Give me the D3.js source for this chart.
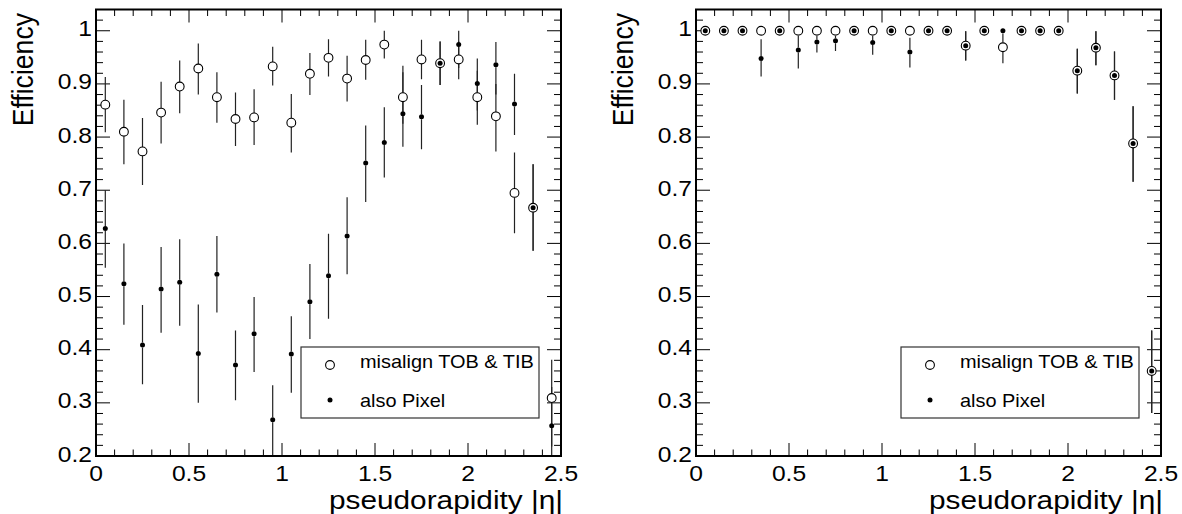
<!DOCTYPE html>
<html>
<head>
  <meta charset="UTF-8">
  <style>
    body { margin: 0; padding: 0; background: #fff; }
    svg { display: block; }
    text { font-family: "Liberation Sans", Arial, sans-serif; fill: #000; }
  </style>
</head>
<body>
<svg></svg>
<script src="https://d3js.org/d3.v7.min.js"></script>
<script>
  // bin centres in |eta|
  const eta = [0.05, 0.15, 0.25, 0.35, 0.45, 0.55, 0.65, 0.75, 0.85, 0.95,
               1.05, 1.15, 1.25, 1.35, 1.45, 1.55, 1.65, 1.75, 1.85, 1.95,
               2.05, 2.15, 2.25, 2.35, 2.45];

  // left pad: "misalign TOB & TIB" (open circles)
  const leftTob    = [0.861, 0.810, 0.773, 0.846, 0.895, 0.929, 0.875, 0.834, 0.837, 0.933,
                      0.827, 0.919, 0.949, 0.910, 0.945, 0.974, 0.875, 0.946, 0.939, 0.946,
                      0.875, 0.839, 0.695, 0.667, 0.309];
  const leftTobHi  = [0.913, 0.870, 0.836, 0.904, 0.944, 0.976, 0.922, 0.884, 0.890, 0.970,
                      0.881, 0.958, 0.984, 0.953, 0.983, 1.000, 0.922, 0.983, 0.980, 0.980,
                      0.925, 0.900, 0.771, 0.749, 0.381];
  const leftTobLo  = [0.809, 0.749, 0.710, 0.788, 0.845, 0.880, 0.827, 0.783, 0.785, 0.897,
                      0.771, 0.879, 0.914, 0.867, 0.908, 0.948, 0.825, 0.909, 0.898, 0.909,
                      0.823, 0.773, 0.619, 0.586, 0.218];
  // left pad: "also Pixel" (filled dots)
  const leftPix    = [0.628, 0.524, 0.409, 0.514, 0.527, 0.393, 0.542, 0.371, 0.430, 0.268,
                      0.392, 0.490, 0.539, 0.614, 0.751, 0.790, 0.844, 0.838, 0.939, 0.974,
                      0.901, 0.936, 0.862, 0.667, 0.257];
  const leftPixHi  = [0.700, 0.600, 0.484, 0.593, 0.608, 0.485, 0.614, 0.436, 0.499, 0.333,
                      0.463, 0.561, 0.618, 0.687, 0.822, 0.856, 0.934, 0.898, 0.980, 1.000,
                      0.948, 0.979, 0.919, 0.749, 0.330];
  const leftPixLo  = [0.554, 0.447, 0.335, 0.432, 0.445, 0.300, 0.470, 0.305, 0.358, 0.200,
                      0.319, 0.420, 0.458, 0.542, 0.678, 0.724, 0.782, 0.777, 0.898, 0.930,
                      0.850, 0.880, 0.804, 0.586, 0.190];

  // right pad
  const rightTob   = [1, 1, 1, 1, 1, 1, 1, 1, 1, 1,
                      1, 1, 1, 1, 0.972, 1, 0.969, 1, 1, 1,
                      0.925, 0.968, 0.916, 0.788, 0.360];
  const rightTobHi = [1, 1, 1, 1, 1, 1, 1, 1, 1, 1,
                      1, 1, 1, 1, 0.999, 1, 0.995, 1, 1, 1,
                      0.966, 0.999, 0.961, 0.858, 0.436];
  const rightTobLo = [1, 1, 1, 1, 1, 1, 1, 1, 1, 1,
                      1, 1, 1, 1, 0.944, 1, 0.939, 1, 1, 1,
                      0.882, 0.935, 0.870, 0.716, 0.281];
  const rightPix   = [1, 1, 1, 0.948, 1, 0.964, 0.979, 0.981, 1, 0.978,
                      1, 0.960, 1, 1, 0.972, 1, 1, 1, 1, 1,
                      0.925, 0.968, 0.916, 0.788, 0.360];
  const rightPixHi = [1, 1, 1, 0.984, 1, 0.990, 0.990, 0.990, 1, 0.990,
                      1, 0.987, 1, 1, 0.999, 1, 1, 1, 1, 1,
                      0.966, 0.999, 0.961, 0.858, 0.436];
  const rightPixLo = [1, 1, 1, 0.914, 1, 0.929, 0.959, 0.962, 1, 0.955,
                      1, 0.931, 1, 1, 0.944, 1, 1, 1, 1, 1,
                      0.882, 0.935, 0.870, 0.716, 0.281];

  const xTicks = [0, 0.5, 1, 1.5, 2, 2.5];
  const yTicks = [0.2, 0.3, 0.4, 0.5, 0.6, 0.7, 0.8, 0.9, 1];
  const legendLabels = ["misalign TOB & TIB", "also Pixel"];

  const W = 1182, H = 514;
  const svg = d3.select("svg").attr("width", W).attr("height", H);

  const frameTop = 9.5, frameBot = 456;
  const y = d3.scaleLinear().domain([0.2, 1.04]).range([frameBot, frameTop]);
  const R_OPEN = 4.4, R_DOT = 2.5;
  const SX = 1.12; // the original picture is stretched a bit horizontally

  // text placed at (tx,ty) and widened like the original
  function label(g, tx, ty, str, size, anchor, rot) {
    return g.append("text")
      .attr("transform", `translate(${tx},${ty}) scale(${SX},1)` + (rot ? " rotate(-90)" : ""))
      .attr("text-anchor", anchor).attr("font-size", size + "px")
      .text(str);
  }

  function drawPad(x0, x1, tob, tobHi, tobLo, pix, pixHi, pixLo) {
    const x = d3.scaleLinear().domain([0, 2.5]).range([x0, x1]);
    const g = svg.append("g");

    const clip = "clip" + x0;
    svg.append("clipPath").attr("id", clip).append("rect")
      .attr("x", x0).attr("y", frameTop).attr("width", x1 - x0).attr("height", frameBot - frameTop);

    // ticks: x every 0.1, major every 0.5; y every 0.02, major every 0.1
    d3.range(0, 26).forEach(i => {
      const v = i / 10, len = i % 5 === 0 ? 13 : 6.5;
      g.append("line").attr("x1", x(v)).attr("x2", x(v)).attr("y1", frameBot).attr("y2", frameBot - len)
        .attr("stroke", "#000").attr("stroke-width", 1);
      g.append("line").attr("x1", x(v)).attr("x2", x(v)).attr("y1", frameTop).attr("y2", frameTop + len)
        .attr("stroke", "#000").attr("stroke-width", 1);
    });
    d3.range(0, 43).forEach(i => {
      const v = 0.2 + i * 0.02, len = i % 5 === 0 ? 14 : 7;
      g.append("line").attr("x1", x0).attr("x2", x0 + len).attr("y1", y(v)).attr("y2", y(v))
        .attr("stroke", "#000").attr("stroke-width", 1);
      g.append("line").attr("x1", x1).attr("x2", x1 - len).attr("y1", y(v)).attr("y2", y(v))
        .attr("stroke", "#000").attr("stroke-width", 1);
    });

    // tick labels
    xTicks.forEach(d => label(g, x(d), 481, d, 22, "middle"));
    yTicks.forEach(d => label(g, x0 - 4, y(d) + 5.5, d, 22, "end"));

    // axis titles
    label(g, x1 + 2, 509, "pseudorapidity |\u03b7|", 26.6, "end");
    label(g, x0 - 63, 13, "Efficiency", 26.6, "end", true);

    const data = eta.map((e, i) => ({
      e, tob: tob[i], tobHi: tobHi[i], tobLo: tobLo[i],
      pix: pix[i], pixHi: pixHi[i], pixLo: pixLo[i]
    }));

    const marks = g.append("g").attr("clip-path", `url(#${clip})`);

    // error bars (leave a gap for the marker as ROOT does)
    function bars(val, hi, lo, gap) {
      marks.selectAll(null).data(data).enter().append("path")
        .attr("d", d => {
          const cx = x(d.e), cy = y(val(d));
          let p = "";
          if (y(hi(d)) < cy - gap) p += `M${cx},${y(hi(d))}V${cy - gap}`;
          if (y(lo(d)) > cy + gap) p += `M${cx},${cy + gap}V${y(lo(d))}`;
          return p || "M0,0";
        })
        .attr("stroke", "#222").attr("stroke-width", 1.2).attr("fill", "none");
    }
    bars(d => d.tob, d => d.tobHi, d => d.tobLo, R_OPEN);
    bars(d => d.pix, d => d.pixHi, d => d.pixLo, R_DOT);

    marks.selectAll(null).data(data).enter().append("circle")
      .attr("cx", d => x(d.e)).attr("cy", d => y(d.tob)).attr("r", R_OPEN)
      .attr("fill", "#fff").attr("stroke", "#000").attr("stroke-width", 1.1);
    marks.selectAll(null).data(data).enter().append("circle")
      .attr("cx", d => x(d.e)).attr("cy", d => y(d.pix)).attr("r", R_DOT)
      .attr("fill", "#000");

    // frame
    g.append("rect").attr("x", x0).attr("y", frameTop).attr("width", x1 - x0).attr("height", frameBot - frameTop)
      .attr("fill", "none").attr("stroke", "#000").attr("stroke-width", 2);

    // legend
    const lx = x0 + 205, ly = 347;
    const leg = g.append("g").attr("transform", `translate(${lx},${ly})`);
    leg.append("rect").attr("x", 0).attr("y", 0).attr("width", 238).attr("height", 71)
      .attr("fill", "#fff").attr("stroke", "#333").attr("stroke-width", 1.2);
    leg.append("circle").attr("cx", 29).attr("cy", 18).attr("r", R_OPEN)
      .attr("fill", "#fff").attr("stroke", "#000").attr("stroke-width", 1.1);
    leg.append("circle").attr("cx", 29).attr("cy", 53).attr("r", R_DOT).attr("fill", "#000");
    legendLabels.forEach((t, i) => label(leg, 59, i === 0 ? 21 : 59.5, t, 17.8, "start"));
  }

  drawPad(96, 561, leftTob, leftTobHi, leftTobLo, leftPix, leftPixHi, leftPixLo);
  drawPad(696, 1161, rightTob, rightTobHi, rightTobLo, rightPix, rightPixHi, rightPixLo);
</script>
</body>
</html>
